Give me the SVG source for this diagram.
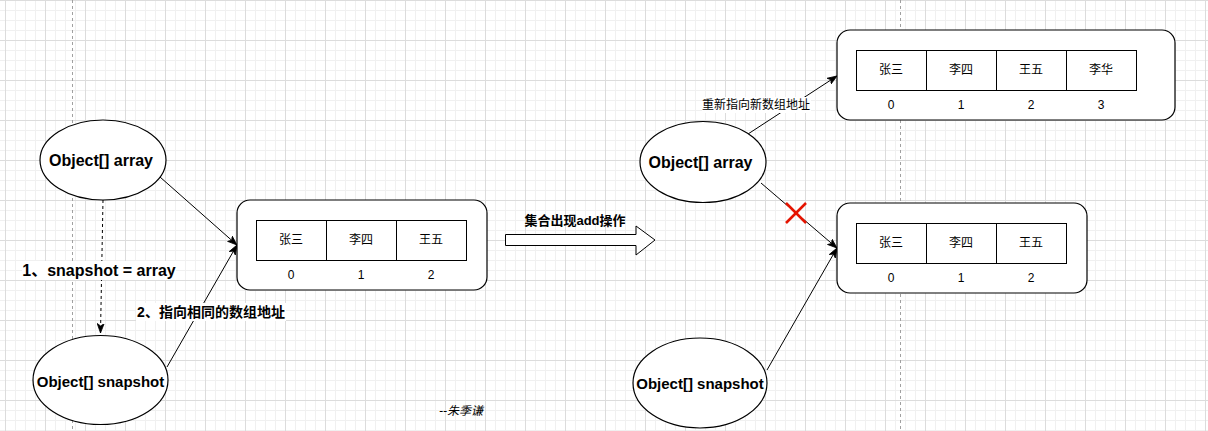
<svg xmlns="http://www.w3.org/2000/svg" width="1208" height="431" viewBox="0 0 1208 431">
<style>
text{font-family:"Liberation Sans","Noto Sans CJK SC",sans-serif;fill:#000;text-anchor:middle;dominant-baseline:central}
.b{font-weight:bold}
.shape{fill:#fff;stroke:#000;stroke-width:1.2}
.cell{fill:#fff;stroke:#000;stroke-width:1}
.edge{fill:none;stroke:#000;stroke-width:1}
.lbl{font-size:12px}
.bg{fill:#fff}
</style>
<defs>
<pattern id="minor" x="5" y="0" width="10" height="10" patternUnits="userSpaceOnUse">
<path d="M0.5,0V10M0,0.5H10" fill="none" stroke="#f0f0f0" stroke-width="1"/>
</pattern>
<pattern id="major" x="5" y="0" width="40" height="40" patternUnits="userSpaceOnUse">
<path d="M0.5,0V40M0,0.5H40" fill="none" stroke="#dcdcdc" stroke-width="1"/>
</pattern>
<marker id="arr" markerWidth="10" markerHeight="8" refX="9.5" refY="4" orient="auto" markerUnits="userSpaceOnUse">
<path d="M0,0.5 L9.5,4 L0,7.5 L2.5,4 Z" fill="#000" stroke="#000" stroke-width="0.8"/>
</marker>
</defs>
<rect width="1208" height="431" fill="#fff"/>
<rect width="1208" height="431" fill="url(#minor)"/>
<rect width="1208" height="431" fill="url(#major)"/>
<g id="pagebreaks" stroke="#a0a0a0" stroke-dasharray="3,3" stroke-width="1">
<line x1="72.5" y1="0" x2="72.5" y2="431"/>
<line x1="900.5" y1="0" x2="900.5" y2="431"/>
</g>

<g id="connectors">
<line class="edge" x1="103" y1="200" x2="100.5" y2="333" stroke-dasharray="3,3" marker-end="url(#arr)"/>
<line class="edge" x1="160" y1="177" x2="237" y2="245" marker-end="url(#arr)"/>
<line class="edge" x1="167" y1="367" x2="237" y2="245" marker-end="url(#arr)"/>
<line class="edge" x1="748" y1="134" x2="837" y2="76" marker-end="url(#arr)"/>
<line class="edge" x1="761" y1="183" x2="837" y2="248" marker-end="url(#arr)"/>
<line class="edge" x1="767" y1="370" x2="837" y2="248" marker-end="url(#arr)"/>
<g id="label1">
<rect class="bg" x="22" y="261" width="154" height="19"/>
<text class="b" x="99" y="270" font-size="16">1、snapshot = array</text>
</g>
<g id="label2">
<rect class="bg" x="136" y="303" width="150" height="18"/>
<text class="b" x="211" y="312" font-size="14">2、指向相同的数组地址</text>
</g>
<g id="label3">
<rect class="bg" x="702" y="97" width="109" height="16"/>
<text x="756" y="105" font-size="12">重新指向新数组地址</text>
</g>
<g id="redx" stroke="#e51400" stroke-width="2.5">
<line x1="786" y1="203" x2="806" y2="223"/>
<line x1="806" y1="203" x2="786" y2="223"/>
</g>
</g>

<g id="left-array">
<ellipse class="shape" cx="103" cy="160" rx="63" ry="40"/>
<text class="b" x="101" y="160" font-size="16">Object[] array</text>
</g>
<g id="left-snapshot">
<ellipse class="shape" cx="100.5" cy="380" rx="67.5" ry="44.5"/>
<text class="b" x="100.5" y="381" font-size="15">Object[] snapshot</text>
</g>

<g id="left-box">
<rect class="shape" x="237" y="200" width="250" height="90" rx="13"/>
<rect class="cell" x="256.5" y="220.5" width="70" height="40"/>
<rect class="cell" x="326.5" y="220.5" width="70" height="40"/>
<rect class="cell" x="396.5" y="220.5" width="70" height="40"/>
<text class="lbl" x="291" y="240">张三</text>
<text class="lbl" x="361" y="240">李四</text>
<text class="lbl" x="431" y="240">王五</text>
<text class="lbl" x="291" y="275">0</text>
<text class="lbl" x="361" y="275">1</text>
<text class="lbl" x="431" y="275">2</text>
</g>

<g id="add-arrow">
<polygon points="505.5,234.5 636,234.5 636,226 655,240 636,255 636,245.5 505.5,245.5" fill="#fff" stroke="#000" stroke-width="1"/>
<text class="b" x="575" y="220" font-size="13">集合出现add操作</text>
</g>

<g id="right-array">
<ellipse class="shape" cx="703" cy="162" rx="63" ry="40.5"/>
<text class="b" x="700.5" y="162.5" font-size="16">Object[] array</text>
</g>
<g id="right-snapshot">
<ellipse class="shape" cx="700" cy="383" rx="67" ry="45"/>
<text class="b" x="700" y="383.5" font-size="15">Object[] snapshot</text>
</g>

<g id="new-box">
<rect class="shape" x="837" y="30" width="338" height="90" rx="13"/>
<rect class="cell" x="856.5" y="50.5" width="70" height="40"/>
<rect class="cell" x="926.5" y="50.5" width="70" height="40"/>
<rect class="cell" x="996.5" y="50.5" width="70" height="40"/>
<rect class="cell" x="1066.5" y="50.5" width="70" height="40"/>
<text class="lbl" x="891" y="70">张三</text>
<text class="lbl" x="961" y="70">李四</text>
<text class="lbl" x="1031" y="70">王五</text>
<text class="lbl" x="1101" y="70">李华</text>
<text class="lbl" x="891" y="105">0</text>
<text class="lbl" x="961" y="105">1</text>
<text class="lbl" x="1031" y="105">2</text>
<text class="lbl" x="1101" y="105">3</text>
</g>

<g id="old-box">
<rect class="shape" x="837" y="203" width="250" height="90" rx="13"/>
<rect class="cell" x="856.5" y="223.5" width="70" height="40"/>
<rect class="cell" x="926.5" y="223.5" width="70" height="40"/>
<rect class="cell" x="996.5" y="223.5" width="70" height="40"/>
<text class="lbl" x="891" y="243">张三</text>
<text class="lbl" x="961" y="243">李四</text>
<text class="lbl" x="1031" y="243">王五</text>
<text class="lbl" x="891" y="278">0</text>
<text class="lbl" x="961" y="278">1</text>
<text class="lbl" x="1031" y="278">2</text>
</g>

<g id="signature">
<text x="461" y="411" font-size="12" font-style="italic">--朱季谦</text>
</g>
</svg>
